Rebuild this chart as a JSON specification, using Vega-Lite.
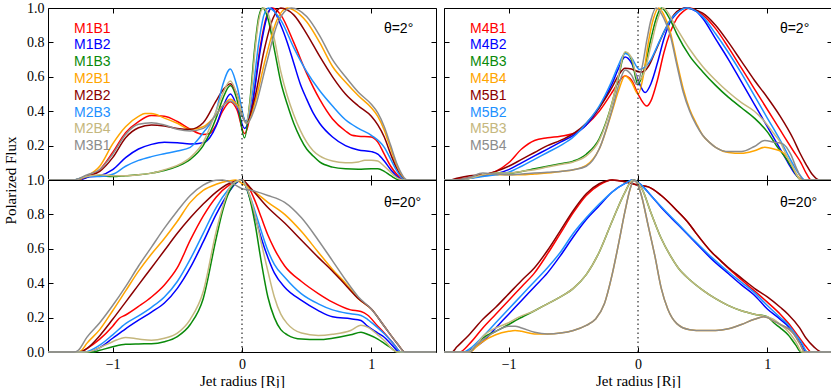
{
"$schema": "https://vega.github.io/schema/vega-lite/v6.json",
"padding": {"left": 2, "top": 0, "right": 0, "bottom": 0},
"bounds": "flush",
"columns": 2,
"spacing": {"row": 0, "column": 8},
"datasets": {
"tl": [
{"s":"M1B1","x":-1.5,"y":0},{"s":"M1B1","x":-1.3,"y":0},{"s":"M1B1","x":-1.2,"y":0.015},{"s":"M1B1","x":-1.1,"y":0.06},{"s":"M1B1","x":-1.0,"y":0.16},{"s":"M1B1","x":-0.9,"y":0.275},{"s":"M1B1","x":-0.8,"y":0.34},{"s":"M1B1","x":-0.7,"y":0.375},{"s":"M1B1","x":-0.6,"y":0.37},{"s":"M1B1","x":-0.5,"y":0.34},{"s":"M1B1","x":-0.4,"y":0.295},{"s":"M1B1","x":-0.3,"y":0.265},{"s":"M1B1","x":-0.25,"y":0.27},{"s":"M1B1","x":-0.2,"y":0.32},{"s":"M1B1","x":-0.15,"y":0.4},{"s":"M1B1","x":-0.09,"y":0.455},{"s":"M1B1","x":-0.04,"y":0.41},{"s":"M1B1","x":0.02,"y":0.27},{"s":"M1B1","x":0.08,"y":0.45},{"s":"M1B1","x":0.14,"y":0.77},{"s":"M1B1","x":0.19,"y":0.95},{"s":"M1B1","x":0.235,"y":1},{"s":"M1B1","x":0.3,"y":0.96},{"s":"M1B1","x":0.4,"y":0.8},{"s":"M1B1","x":0.5,"y":0.62},{"s":"M1B1","x":0.6,"y":0.47},{"s":"M1B1","x":0.7,"y":0.355},{"s":"M1B1","x":0.8,"y":0.285},{"s":"M1B1","x":0.85,"y":0.26},{"s":"M1B1","x":0.9,"y":0.255},{"s":"M1B1","x":1.0,"y":0.25},{"s":"M1B1","x":1.05,"y":0.22},{"s":"M1B1","x":1.1,"y":0.15},{"s":"M1B1","x":1.15,"y":0.08},{"s":"M1B1","x":1.2,"y":0.03},{"s":"M1B1","x":1.25,"y":0},{"s":"M1B1","x":1.5,"y":0},
{"s":"M1B2","x":-1.5,"y":0},{"s":"M1B2","x":-1.25,"y":0},{"s":"M1B2","x":-1.2,"y":0.015},{"s":"M1B2","x":-1.1,"y":0.025},{"s":"M1B2","x":-1.0,"y":0.06},{"s":"M1B2","x":-0.9,"y":0.13},{"s":"M1B2","x":-0.8,"y":0.18},{"s":"M1B2","x":-0.7,"y":0.207},{"s":"M1B2","x":-0.6,"y":0.22},{"s":"M1B2","x":-0.5,"y":0.217},{"s":"M1B2","x":-0.4,"y":0.21},{"s":"M1B2","x":-0.3,"y":0.217},{"s":"M1B2","x":-0.25,"y":0.246},{"s":"M1B2","x":-0.2,"y":0.314},{"s":"M1B2","x":-0.15,"y":0.42},{"s":"M1B2","x":-0.09,"y":0.5},{"s":"M1B2","x":-0.04,"y":0.43},{"s":"M1B2","x":0.02,"y":0.3},{"s":"M1B2","x":0.08,"y":0.44},{"s":"M1B2","x":0.14,"y":0.75},{"s":"M1B2","x":0.19,"y":0.94},{"s":"M1B2","x":0.225,"y":1},{"s":"M1B2","x":0.3,"y":0.9},{"s":"M1B2","x":0.35,"y":0.8},{"s":"M1B2","x":0.4,"y":0.68},{"s":"M1B2","x":0.45,"y":0.56},{"s":"M1B2","x":0.5,"y":0.47},{"s":"M1B2","x":0.55,"y":0.39},{"s":"M1B2","x":0.6,"y":0.33},{"s":"M1B2","x":0.7,"y":0.25},{"s":"M1B2","x":0.8,"y":0.2},{"s":"M1B2","x":0.9,"y":0.175},{"s":"M1B2","x":1.0,"y":0.165},{"s":"M1B2","x":1.05,"y":0.15},{"s":"M1B2","x":1.1,"y":0.11},{"s":"M1B2","x":1.15,"y":0.06},{"s":"M1B2","x":1.2,"y":0.02},{"s":"M1B2","x":1.24,"y":0},{"s":"M1B2","x":1.5,"y":0},
{"s":"M1B3","x":-1.5,"y":0},{"s":"M1B3","x":-1.3,"y":0},{"s":"M1B3","x":-1.2,"y":0.02},{"s":"M1B3","x":-1.1,"y":0.025},{"s":"M1B3","x":-1.0,"y":0.02},{"s":"M1B3","x":-0.9,"y":0.025},{"s":"M1B3","x":-0.8,"y":0.03},{"s":"M1B3","x":-0.7,"y":0.04},{"s":"M1B3","x":-0.6,"y":0.055},{"s":"M1B3","x":-0.5,"y":0.08},{"s":"M1B3","x":-0.4,"y":0.12},{"s":"M1B3","x":-0.3,"y":0.2},{"s":"M1B3","x":-0.2,"y":0.36},{"s":"M1B3","x":-0.15,"y":0.47},{"s":"M1B3","x":-0.09,"y":0.55},{"s":"M1B3","x":-0.04,"y":0.47},{"s":"M1B3","x":0.02,"y":0.245},{"s":"M1B3","x":0.06,"y":0.45},{"s":"M1B3","x":0.1,"y":0.78},{"s":"M1B3","x":0.13,"y":0.95},{"s":"M1B3","x":0.16,"y":1},{"s":"M1B3","x":0.2,"y":0.94},{"s":"M1B3","x":0.25,"y":0.76},{"s":"M1B3","x":0.3,"y":0.57},{"s":"M1B3","x":0.35,"y":0.44},{"s":"M1B3","x":0.4,"y":0.33},{"s":"M1B3","x":0.45,"y":0.245},{"s":"M1B3","x":0.5,"y":0.18},{"s":"M1B3","x":0.55,"y":0.14},{"s":"M1B3","x":0.6,"y":0.105},{"s":"M1B3","x":0.7,"y":0.075},{"s":"M1B3","x":0.8,"y":0.065},{"s":"M1B3","x":0.9,"y":0.063},{"s":"M1B3","x":1.0,"y":0.066},{"s":"M1B3","x":1.05,"y":0.065},{"s":"M1B3","x":1.1,"y":0.05},{"s":"M1B3","x":1.15,"y":0.025},{"s":"M1B3","x":1.22,"y":0},{"s":"M1B3","x":1.5,"y":0},
{"s":"M2B1","x":-1.5,"y":0},{"s":"M2B1","x":-1.28,"y":0},{"s":"M2B1","x":-1.2,"y":0.023},{"s":"M2B1","x":-1.1,"y":0.08},{"s":"M2B1","x":-1.0,"y":0.21},{"s":"M2B1","x":-0.9,"y":0.31},{"s":"M2B1","x":-0.8,"y":0.37},{"s":"M2B1","x":-0.75,"y":0.386},{"s":"M2B1","x":-0.7,"y":0.386},{"s":"M2B1","x":-0.6,"y":0.36},{"s":"M2B1","x":-0.5,"y":0.33},{"s":"M2B1","x":-0.4,"y":0.295},{"s":"M2B1","x":-0.3,"y":0.31},{"s":"M2B1","x":-0.2,"y":0.38},{"s":"M2B1","x":-0.15,"y":0.43},{"s":"M2B1","x":-0.09,"y":0.47},{"s":"M2B1","x":-0.04,"y":0.44},{"s":"M2B1","x":0.04,"y":0.33},{"s":"M2B1","x":0.1,"y":0.45},{"s":"M2B1","x":0.18,"y":0.7},{"s":"M2B1","x":0.27,"y":0.93},{"s":"M2B1","x":0.35,"y":1},{"s":"M2B1","x":0.45,"y":0.96},{"s":"M2B1","x":0.5,"y":0.92},{"s":"M2B1","x":0.6,"y":0.8},{"s":"M2B1","x":0.7,"y":0.66},{"s":"M2B1","x":0.8,"y":0.57},{"s":"M2B1","x":0.9,"y":0.49},{"s":"M2B1","x":1.0,"y":0.42},{"s":"M2B1","x":1.05,"y":0.37},{"s":"M2B1","x":1.1,"y":0.29},{"s":"M2B1","x":1.15,"y":0.18},{"s":"M2B1","x":1.2,"y":0.08},{"s":"M2B1","x":1.27,"y":0},{"s":"M2B1","x":1.5,"y":0},
{"s":"M2B2","x":-1.5,"y":0},{"s":"M2B2","x":-1.3,"y":0},{"s":"M2B2","x":-1.2,"y":0.02},{"s":"M2B2","x":-1.1,"y":0.05},{"s":"M2B2","x":-1.0,"y":0.13},{"s":"M2B2","x":-0.9,"y":0.246},{"s":"M2B2","x":-0.8,"y":0.304},{"s":"M2B2","x":-0.7,"y":0.32},{"s":"M2B2","x":-0.6,"y":0.314},{"s":"M2B2","x":-0.5,"y":0.3},{"s":"M2B2","x":-0.4,"y":0.295},{"s":"M2B2","x":-0.3,"y":0.333},{"s":"M2B2","x":-0.2,"y":0.46},{"s":"M2B2","x":-0.15,"y":0.52},{"s":"M2B2","x":-0.09,"y":0.56},{"s":"M2B2","x":-0.04,"y":0.5},{"s":"M2B2","x":0.03,"y":0.34},{"s":"M2B2","x":0.1,"y":0.48},{"s":"M2B2","x":0.17,"y":0.75},{"s":"M2B2","x":0.24,"y":0.94},{"s":"M2B2","x":0.3,"y":1},{"s":"M2B2","x":0.4,"y":0.96},{"s":"M2B2","x":0.5,"y":0.85},{"s":"M2B2","x":0.6,"y":0.72},{"s":"M2B2","x":0.7,"y":0.6},{"s":"M2B2","x":0.8,"y":0.5},{"s":"M2B2","x":0.9,"y":0.43},{"s":"M2B2","x":1.0,"y":0.37},{"s":"M2B2","x":1.05,"y":0.32},{"s":"M2B2","x":1.1,"y":0.25},{"s":"M2B2","x":1.15,"y":0.15},{"s":"M2B2","x":1.2,"y":0.06},{"s":"M2B2","x":1.26,"y":0},{"s":"M2B2","x":1.5,"y":0},
{"s":"M2B3","x":-1.5,"y":0},{"s":"M2B3","x":-1.3,"y":0},{"s":"M2B3","x":-1.2,"y":0.02},{"s":"M2B3","x":-1.1,"y":0.02},{"s":"M2B3","x":-1.0,"y":0.033},{"s":"M2B3","x":-0.9,"y":0.08},{"s":"M2B3","x":-0.8,"y":0.114},{"s":"M2B3","x":-0.7,"y":0.136},{"s":"M2B3","x":-0.6,"y":0.153},{"s":"M2B3","x":-0.5,"y":0.169},{"s":"M2B3","x":-0.4,"y":0.19},{"s":"M2B3","x":-0.35,"y":0.227},{"s":"M2B3","x":-0.3,"y":0.275},{"s":"M2B3","x":-0.2,"y":0.4},{"s":"M2B3","x":-0.15,"y":0.55},{"s":"M2B3","x":-0.09,"y":0.645},{"s":"M2B3","x":-0.04,"y":0.55},{"s":"M2B3","x":0.03,"y":0.34},{"s":"M2B3","x":0.08,"y":0.5},{"s":"M2B3","x":0.13,"y":0.8},{"s":"M2B3","x":0.17,"y":0.96},{"s":"M2B3","x":0.205,"y":1},{"s":"M2B3","x":0.3,"y":0.93},{"s":"M2B3","x":0.4,"y":0.77},{"s":"M2B3","x":0.5,"y":0.63},{"s":"M2B3","x":0.6,"y":0.52},{"s":"M2B3","x":0.7,"y":0.43},{"s":"M2B3","x":0.8,"y":0.35},{"s":"M2B3","x":0.9,"y":0.3},{"s":"M2B3","x":1.0,"y":0.26},{"s":"M2B3","x":1.1,"y":0.19},{"s":"M2B3","x":1.15,"y":0.12},{"s":"M2B3","x":1.2,"y":0.05},{"s":"M2B3","x":1.26,"y":0},{"s":"M2B3","x":1.5,"y":0},
{"s":"M2B4","x":-1.5,"y":0},{"s":"M2B4","x":-1.3,"y":0},{"s":"M2B4","x":-1.2,"y":0.02},{"s":"M2B4","x":-1.1,"y":0.03},{"s":"M2B4","x":-1.0,"y":0.025},{"s":"M2B4","x":-0.9,"y":0.025},{"s":"M2B4","x":-0.8,"y":0.03},{"s":"M2B4","x":-0.7,"y":0.04},{"s":"M2B4","x":-0.6,"y":0.06},{"s":"M2B4","x":-0.5,"y":0.085},{"s":"M2B4","x":-0.4,"y":0.13},{"s":"M2B4","x":-0.3,"y":0.22},{"s":"M2B4","x":-0.2,"y":0.4},{"s":"M2B4","x":-0.15,"y":0.5},{"s":"M2B4","x":-0.09,"y":0.575},{"s":"M2B4","x":-0.04,"y":0.5},{"s":"M2B4","x":0.03,"y":0.33},{"s":"M2B4","x":0.07,"y":0.5},{"s":"M2B4","x":0.1,"y":0.75},{"s":"M2B4","x":0.13,"y":0.93},{"s":"M2B4","x":0.165,"y":1},{"s":"M2B4","x":0.2,"y":0.97},{"s":"M2B4","x":0.25,"y":0.82},{"s":"M2B4","x":0.3,"y":0.63},{"s":"M2B4","x":0.35,"y":0.49},{"s":"M2B4","x":0.4,"y":0.38},{"s":"M2B4","x":0.45,"y":0.29},{"s":"M2B4","x":0.5,"y":0.22},{"s":"M2B4","x":0.55,"y":0.17},{"s":"M2B4","x":0.6,"y":0.14},{"s":"M2B4","x":0.7,"y":0.11},{"s":"M2B4","x":0.8,"y":0.1},{"s":"M2B4","x":0.9,"y":0.105},{"s":"M2B4","x":0.95,"y":0.115},{"s":"M2B4","x":1.0,"y":0.115},{"s":"M2B4","x":1.05,"y":0.11},{"s":"M2B4","x":1.1,"y":0.08},{"s":"M2B4","x":1.17,"y":0.03},{"s":"M2B4","x":1.24,"y":0},{"s":"M2B4","x":1.5,"y":0},
{"s":"M3B1","x":-1.5,"y":0},{"s":"M3B1","x":-1.3,"y":0},{"s":"M3B1","x":-1.2,"y":0.03},{"s":"M3B1","x":-1.1,"y":0.06},{"s":"M3B1","x":-1.0,"y":0.15},{"s":"M3B1","x":-0.9,"y":0.265},{"s":"M3B1","x":-0.8,"y":0.324},{"s":"M3B1","x":-0.7,"y":0.333},{"s":"M3B1","x":-0.6,"y":0.32},{"s":"M3B1","x":-0.5,"y":0.295},{"s":"M3B1","x":-0.4,"y":0.285},{"s":"M3B1","x":-0.3,"y":0.3},{"s":"M3B1","x":-0.2,"y":0.38},{"s":"M3B1","x":-0.15,"y":0.43},{"s":"M3B1","x":-0.09,"y":0.46},{"s":"M3B1","x":-0.04,"y":0.43},{"s":"M3B1","x":0.04,"y":0.33},{"s":"M3B1","x":0.1,"y":0.42},{"s":"M3B1","x":0.19,"y":0.68},{"s":"M3B1","x":0.28,"y":0.92},{"s":"M3B1","x":0.38,"y":1},{"s":"M3B1","x":0.5,"y":0.95},{"s":"M3B1","x":0.6,"y":0.84},{"s":"M3B1","x":0.7,"y":0.7},{"s":"M3B1","x":0.8,"y":0.6},{"s":"M3B1","x":0.9,"y":0.51},{"s":"M3B1","x":1.0,"y":0.44},{"s":"M3B1","x":1.05,"y":0.39},{"s":"M3B1","x":1.1,"y":0.31},{"s":"M3B1","x":1.15,"y":0.2},{"s":"M3B1","x":1.2,"y":0.09},{"s":"M3B1","x":1.28,"y":0},{"s":"M3B1","x":1.5,"y":0}
],
"tr": [
{"s":"M4B1","x":-1.5,"y":0},{"s":"M4B1","x":-1.4,"y":0.005},{"s":"M4B1","x":-1.3,"y":0.015},{"s":"M4B1","x":-1.2,"y":0.03},{"s":"M4B1","x":-1.1,"y":0.05},{"s":"M4B1","x":-1.0,"y":0.1},{"s":"M4B1","x":-0.9,"y":0.18},{"s":"M4B1","x":-0.8,"y":0.23},{"s":"M4B1","x":-0.7,"y":0.245},{"s":"M4B1","x":-0.6,"y":0.255},{"s":"M4B1","x":-0.5,"y":0.27},{"s":"M4B1","x":-0.4,"y":0.32},{"s":"M4B1","x":-0.3,"y":0.4},{"s":"M4B1","x":-0.2,"y":0.51},{"s":"M4B1","x":-0.15,"y":0.57},{"s":"M4B1","x":-0.1,"y":0.605},{"s":"M4B1","x":-0.05,"y":0.58},{"s":"M4B1","x":0.0,"y":0.5},{"s":"M4B1","x":0.068,"y":0.43},{"s":"M4B1","x":0.1,"y":0.46},{"s":"M4B1","x":0.15,"y":0.58},{"s":"M4B1","x":0.2,"y":0.74},{"s":"M4B1","x":0.25,"y":0.86},{"s":"M4B1","x":0.3,"y":0.94},{"s":"M4B1","x":0.35,"y":0.98},{"s":"M4B1","x":0.4,"y":1},{"s":"M4B1","x":0.5,"y":0.96},{"s":"M4B1","x":0.6,"y":0.88},{"s":"M4B1","x":0.7,"y":0.77},{"s":"M4B1","x":0.8,"y":0.65},{"s":"M4B1","x":0.9,"y":0.53},{"s":"M4B1","x":1.0,"y":0.41},{"s":"M4B1","x":1.1,"y":0.29},{"s":"M4B1","x":1.2,"y":0.17},{"s":"M4B1","x":1.26,"y":0.1},{"s":"M4B1","x":1.3,"y":0.04},{"s":"M4B1","x":1.34,"y":0},{"s":"M4B1","x":1.5,"y":0},
{"s":"M4B2","x":-1.5,"y":0},{"s":"M4B2","x":-1.4,"y":0},{"s":"M4B2","x":-1.3,"y":0.01},{"s":"M4B2","x":-1.2,"y":0.025},{"s":"M4B2","x":-1.1,"y":0.035},{"s":"M4B2","x":-1.0,"y":0.06},{"s":"M4B2","x":-0.9,"y":0.1},{"s":"M4B2","x":-0.8,"y":0.14},{"s":"M4B2","x":-0.7,"y":0.18},{"s":"M4B2","x":-0.6,"y":0.22},{"s":"M4B2","x":-0.5,"y":0.26},{"s":"M4B2","x":-0.4,"y":0.32},{"s":"M4B2","x":-0.3,"y":0.42},{"s":"M4B2","x":-0.2,"y":0.56},{"s":"M4B2","x":-0.15,"y":0.65},{"s":"M4B2","x":-0.1,"y":0.715},{"s":"M4B2","x":-0.05,"y":0.68},{"s":"M4B2","x":0.0,"y":0.58},{"s":"M4B2","x":0.055,"y":0.508},{"s":"M4B2","x":0.1,"y":0.56},{"s":"M4B2","x":0.15,"y":0.68},{"s":"M4B2","x":0.2,"y":0.82},{"s":"M4B2","x":0.25,"y":0.92},{"s":"M4B2","x":0.3,"y":0.97},{"s":"M4B2","x":0.37,"y":1},{"s":"M4B2","x":0.45,"y":0.98},{"s":"M4B2","x":0.5,"y":0.94},{"s":"M4B2","x":0.6,"y":0.82},{"s":"M4B2","x":0.7,"y":0.7},{"s":"M4B2","x":0.8,"y":0.57},{"s":"M4B2","x":0.9,"y":0.44},{"s":"M4B2","x":1.0,"y":0.31},{"s":"M4B2","x":1.1,"y":0.18},{"s":"M4B2","x":1.16,"y":0.1},{"s":"M4B2","x":1.22,"y":0.03},{"s":"M4B2","x":1.27,"y":0},{"s":"M4B2","x":1.5,"y":0},
{"s":"M4B3","x":-1.5,"y":0},{"s":"M4B3","x":-1.4,"y":0},{"s":"M4B3","x":-1.3,"y":0.01},{"s":"M4B3","x":-1.2,"y":0.03},{"s":"M4B3","x":-1.1,"y":0.04},{"s":"M4B3","x":-1.0,"y":0.04},{"s":"M4B3","x":-0.9,"y":0.05},{"s":"M4B3","x":-0.8,"y":0.065},{"s":"M4B3","x":-0.7,"y":0.08},{"s":"M4B3","x":-0.6,"y":0.095},{"s":"M4B3","x":-0.5,"y":0.11},{"s":"M4B3","x":-0.4,"y":0.15},{"s":"M4B3","x":-0.3,"y":0.24},{"s":"M4B3","x":-0.2,"y":0.45},{"s":"M4B3","x":-0.15,"y":0.6},{"s":"M4B3","x":-0.1,"y":0.74},{"s":"M4B3","x":-0.05,"y":0.7},{"s":"M4B3","x":0.0,"y":0.556},{"s":"M4B3","x":0.05,"y":0.65},{"s":"M4B3","x":0.1,"y":0.82},{"s":"M4B3","x":0.15,"y":0.96},{"s":"M4B3","x":0.18,"y":1},{"s":"M4B3","x":0.25,"y":0.93},{"s":"M4B3","x":0.3,"y":0.85},{"s":"M4B3","x":0.4,"y":0.72},{"s":"M4B3","x":0.5,"y":0.63},{"s":"M4B3","x":0.6,"y":0.55},{"s":"M4B3","x":0.7,"y":0.48},{"s":"M4B3","x":0.8,"y":0.42},{"s":"M4B3","x":0.9,"y":0.36},{"s":"M4B3","x":1.0,"y":0.28},{"s":"M4B3","x":1.07,"y":0.2},{"s":"M4B3","x":1.15,"y":0.12},{"s":"M4B3","x":1.2,"y":0.06},{"s":"M4B3","x":1.26,"y":0},{"s":"M4B3","x":1.5,"y":0},
{"s":"M4B4","x":-1.5,"y":0},{"s":"M4B4","x":-1.4,"y":0},{"s":"M4B4","x":-1.3,"y":0.01},{"s":"M4B4","x":-1.2,"y":0.03},{"s":"M4B4","x":-1.1,"y":0.03},{"s":"M4B4","x":-1.0,"y":0.03},{"s":"M4B4","x":-0.9,"y":0.03},{"s":"M4B4","x":-0.8,"y":0.035},{"s":"M4B4","x":-0.7,"y":0.04},{"s":"M4B4","x":-0.6,"y":0.05},{"s":"M4B4","x":-0.5,"y":0.06},{"s":"M4B4","x":-0.4,"y":0.085},{"s":"M4B4","x":-0.3,"y":0.18},{"s":"M4B4","x":-0.2,"y":0.4},{"s":"M4B4","x":-0.15,"y":0.52},{"s":"M4B4","x":-0.1,"y":0.605},{"s":"M4B4","x":-0.05,"y":0.57},{"s":"M4B4","x":0.0,"y":0.5},{"s":"M4B4","x":0.04,"y":0.6},{"s":"M4B4","x":0.08,"y":0.8},{"s":"M4B4","x":0.12,"y":0.94},{"s":"M4B4","x":0.16,"y":1},{"s":"M4B4","x":0.2,"y":0.96},{"s":"M4B4","x":0.25,"y":0.86},{"s":"M4B4","x":0.3,"y":0.69},{"s":"M4B4","x":0.35,"y":0.53},{"s":"M4B4","x":0.4,"y":0.41},{"s":"M4B4","x":0.45,"y":0.33},{"s":"M4B4","x":0.5,"y":0.26},{"s":"M4B4","x":0.55,"y":0.22},{"s":"M4B4","x":0.6,"y":0.19},{"s":"M4B4","x":0.7,"y":0.16},{"s":"M4B4","x":0.8,"y":0.155},{"s":"M4B4","x":0.9,"y":0.17},{"s":"M4B4","x":0.98,"y":0.19},{"s":"M4B4","x":1.05,"y":0.18},{"s":"M4B4","x":1.12,"y":0.16},{"s":"M4B4","x":1.18,"y":0.1},{"s":"M4B4","x":1.22,"y":0.04},{"s":"M4B4","x":1.27,"y":0},{"s":"M4B4","x":1.5,"y":0},
{"s":"M5B1","x":-1.5,"y":0},{"s":"M5B1","x":-1.45,"y":0},{"s":"M5B1","x":-1.4,"y":0.01},{"s":"M5B1","x":-1.3,"y":0.025},{"s":"M5B1","x":-1.2,"y":0.03},{"s":"M5B1","x":-1.1,"y":0.05},{"s":"M5B1","x":-1.0,"y":0.08},{"s":"M5B1","x":-0.9,"y":0.12},{"s":"M5B1","x":-0.8,"y":0.16},{"s":"M5B1","x":-0.7,"y":0.2},{"s":"M5B1","x":-0.6,"y":0.23},{"s":"M5B1","x":-0.5,"y":0.27},{"s":"M5B1","x":-0.4,"y":0.33},{"s":"M5B1","x":-0.3,"y":0.42},{"s":"M5B1","x":-0.2,"y":0.54},{"s":"M5B1","x":-0.15,"y":0.61},{"s":"M5B1","x":-0.1,"y":0.65},{"s":"M5B1","x":-0.05,"y":0.645},{"s":"M5B1","x":0.0,"y":0.63},{"s":"M5B1","x":0.03,"y":0.628},{"s":"M5B1","x":0.08,"y":0.66},{"s":"M5B1","x":0.13,"y":0.74},{"s":"M5B1","x":0.2,"y":0.86},{"s":"M5B1","x":0.25,"y":0.93},{"s":"M5B1","x":0.3,"y":0.98},{"s":"M5B1","x":0.36,"y":1},{"s":"M5B1","x":0.5,"y":0.97},{"s":"M5B1","x":0.6,"y":0.9},{"s":"M5B1","x":0.7,"y":0.8},{"s":"M5B1","x":0.8,"y":0.69},{"s":"M5B1","x":0.9,"y":0.58},{"s":"M5B1","x":1.0,"y":0.48},{"s":"M5B1","x":1.1,"y":0.37},{"s":"M5B1","x":1.2,"y":0.24},{"s":"M5B1","x":1.25,"y":0.16},{"s":"M5B1","x":1.3,"y":0.09},{"s":"M5B1","x":1.35,"y":0.03},{"s":"M5B1","x":1.4,"y":0},{"s":"M5B1","x":1.5,"y":0},
{"s":"M5B2","x":-1.5,"y":0},{"s":"M5B2","x":-1.4,"y":0},{"s":"M5B2","x":-1.3,"y":0.01},{"s":"M5B2","x":-1.2,"y":0.02},{"s":"M5B2","x":-1.1,"y":0.03},{"s":"M5B2","x":-1.0,"y":0.045},{"s":"M5B2","x":-0.9,"y":0.08},{"s":"M5B2","x":-0.8,"y":0.12},{"s":"M5B2","x":-0.7,"y":0.16},{"s":"M5B2","x":-0.6,"y":0.2},{"s":"M5B2","x":-0.5,"y":0.25},{"s":"M5B2","x":-0.4,"y":0.33},{"s":"M5B2","x":-0.3,"y":0.43},{"s":"M5B2","x":-0.2,"y":0.58},{"s":"M5B2","x":-0.15,"y":0.67},{"s":"M5B2","x":-0.1,"y":0.735},{"s":"M5B2","x":-0.05,"y":0.71},{"s":"M5B2","x":0.01,"y":0.643},{"s":"M5B2","x":0.06,"y":0.66},{"s":"M5B2","x":0.1,"y":0.7},{"s":"M5B2","x":0.15,"y":0.78},{"s":"M5B2","x":0.2,"y":0.86},{"s":"M5B2","x":0.25,"y":0.93},{"s":"M5B2","x":0.3,"y":0.97},{"s":"M5B2","x":0.38,"y":1},{"s":"M5B2","x":0.5,"y":0.95},{"s":"M5B2","x":0.6,"y":0.85},{"s":"M5B2","x":0.7,"y":0.74},{"s":"M5B2","x":0.8,"y":0.62},{"s":"M5B2","x":0.9,"y":0.49},{"s":"M5B2","x":1.0,"y":0.36},{"s":"M5B2","x":1.1,"y":0.23},{"s":"M5B2","x":1.15,"y":0.16},{"s":"M5B2","x":1.2,"y":0.09},{"s":"M5B2","x":1.25,"y":0.03},{"s":"M5B2","x":1.29,"y":0},{"s":"M5B2","x":1.5,"y":0},
{"s":"M5B3","x":-1.5,"y":0},{"s":"M5B3","x":-1.4,"y":0},{"s":"M5B3","x":-1.3,"y":0.01},{"s":"M5B3","x":-1.2,"y":0.03},{"s":"M5B3","x":-1.1,"y":0.04},{"s":"M5B3","x":-1.0,"y":0.04},{"s":"M5B3","x":-0.9,"y":0.05},{"s":"M5B3","x":-0.8,"y":0.06},{"s":"M5B3","x":-0.7,"y":0.075},{"s":"M5B3","x":-0.6,"y":0.09},{"s":"M5B3","x":-0.5,"y":0.105},{"s":"M5B3","x":-0.4,"y":0.14},{"s":"M5B3","x":-0.3,"y":0.23},{"s":"M5B3","x":-0.2,"y":0.45},{"s":"M5B3","x":-0.15,"y":0.61},{"s":"M5B3","x":-0.1,"y":0.745},{"s":"M5B3","x":-0.05,"y":0.71},{"s":"M5B3","x":0.0,"y":0.58},{"s":"M5B3","x":0.05,"y":0.63},{"s":"M5B3","x":0.1,"y":0.78},{"s":"M5B3","x":0.15,"y":0.93},{"s":"M5B3","x":0.195,"y":1},{"s":"M5B3","x":0.3,"y":0.88},{"s":"M5B3","x":0.4,"y":0.76},{"s":"M5B3","x":0.5,"y":0.66},{"s":"M5B3","x":0.6,"y":0.58},{"s":"M5B3","x":0.7,"y":0.51},{"s":"M5B3","x":0.8,"y":0.45},{"s":"M5B3","x":0.9,"y":0.4},{"s":"M5B3","x":1.0,"y":0.32},{"s":"M5B3","x":1.05,"y":0.27},{"s":"M5B3","x":1.1,"y":0.22},{"s":"M5B3","x":1.15,"y":0.14},{"s":"M5B3","x":1.2,"y":0.07},{"s":"M5B3","x":1.26,"y":0},{"s":"M5B3","x":1.5,"y":0},
{"s":"M5B4","x":-1.5,"y":0},{"s":"M5B4","x":-1.4,"y":0},{"s":"M5B4","x":-1.3,"y":0.015},{"s":"M5B4","x":-1.2,"y":0.04},{"s":"M5B4","x":-1.1,"y":0.035},{"s":"M5B4","x":-1.0,"y":0.03},{"s":"M5B4","x":-0.9,"y":0.035},{"s":"M5B4","x":-0.8,"y":0.04},{"s":"M5B4","x":-0.7,"y":0.045},{"s":"M5B4","x":-0.6,"y":0.05},{"s":"M5B4","x":-0.5,"y":0.06},{"s":"M5B4","x":-0.4,"y":0.08},{"s":"M5B4","x":-0.3,"y":0.18},{"s":"M5B4","x":-0.2,"y":0.41},{"s":"M5B4","x":-0.15,"y":0.55},{"s":"M5B4","x":-0.1,"y":0.64},{"s":"M5B4","x":-0.05,"y":0.61},{"s":"M5B4","x":-0.01,"y":0.556},{"s":"M5B4","x":0.03,"y":0.65},{"s":"M5B4","x":0.07,"y":0.82},{"s":"M5B4","x":0.1,"y":0.93},{"s":"M5B4","x":0.14,"y":1},{"s":"M5B4","x":0.2,"y":0.94},{"s":"M5B4","x":0.25,"y":0.84},{"s":"M5B4","x":0.3,"y":0.67},{"s":"M5B4","x":0.35,"y":0.51},{"s":"M5B4","x":0.4,"y":0.4},{"s":"M5B4","x":0.45,"y":0.32},{"s":"M5B4","x":0.5,"y":0.26},{"s":"M5B4","x":0.55,"y":0.22},{"s":"M5B4","x":0.6,"y":0.19},{"s":"M5B4","x":0.7,"y":0.165},{"s":"M5B4","x":0.8,"y":0.165},{"s":"M5B4","x":0.9,"y":0.195},{"s":"M5B4","x":0.98,"y":0.23},{"s":"M5B4","x":1.05,"y":0.22},{"s":"M5B4","x":1.12,"y":0.21},{"s":"M5B4","x":1.18,"y":0.15},{"s":"M5B4","x":1.23,"y":0.06},{"s":"M5B4","x":1.28,"y":0},{"s":"M5B4","x":1.5,"y":0}
],
"bl": [
{"s":"M1B1","x":-1.5,"y":0},{"s":"M1B1","x":-1.25,"y":0},{"s":"M1B1","x":-1.2,"y":0.02},{"s":"M1B1","x":-1.1,"y":0.075},{"s":"M1B1","x":-1.0,"y":0.15},{"s":"M1B1","x":-0.95,"y":0.195},{"s":"M1B1","x":-0.9,"y":0.215},{"s":"M1B1","x":-0.8,"y":0.265},{"s":"M1B1","x":-0.7,"y":0.32},{"s":"M1B1","x":-0.6,"y":0.39},{"s":"M1B1","x":-0.5,"y":0.49},{"s":"M1B1","x":-0.4,"y":0.65},{"s":"M1B1","x":-0.3,"y":0.79},{"s":"M1B1","x":-0.2,"y":0.9},{"s":"M1B1","x":-0.1,"y":0.97},{"s":"M1B1","x":-0.05,"y":0.99},{"s":"M1B1","x":0,"y":1},{"s":"M1B1","x":0.05,"y":0.96},{"s":"M1B1","x":0.1,"y":0.88},{"s":"M1B1","x":0.15,"y":0.78},{"s":"M1B1","x":0.2,"y":0.68},{"s":"M1B1","x":0.25,"y":0.6},{"s":"M1B1","x":0.33,"y":0.5},{"s":"M1B1","x":0.46,"y":0.41},{"s":"M1B1","x":0.59,"y":0.34},{"s":"M1B1","x":0.7,"y":0.29},{"s":"M1B1","x":0.84,"y":0.245},{"s":"M1B1","x":0.92,"y":0.235},{"s":"M1B1","x":0.97,"y":0.215},{"s":"M1B1","x":1.05,"y":0.15},{"s":"M1B1","x":1.1,"y":0.11},{"s":"M1B1","x":1.17,"y":0.05},{"s":"M1B1","x":1.23,"y":0},{"s":"M1B1","x":1.5,"y":0},
{"s":"M1B2","x":-1.5,"y":0},{"s":"M1B2","x":-1.2,"y":0},{"s":"M1B2","x":-1.1,"y":0.025},{"s":"M1B2","x":-1.0,"y":0.08},{"s":"M1B2","x":-0.9,"y":0.135},{"s":"M1B2","x":-0.8,"y":0.185},{"s":"M1B2","x":-0.7,"y":0.232},{"s":"M1B2","x":-0.6,"y":0.285},{"s":"M1B2","x":-0.5,"y":0.37},{"s":"M1B2","x":-0.4,"y":0.49},{"s":"M1B2","x":-0.3,"y":0.64},{"s":"M1B2","x":-0.2,"y":0.8},{"s":"M1B2","x":-0.1,"y":0.93},{"s":"M1B2","x":-0.05,"y":0.98},{"s":"M1B2","x":0,"y":1},{"s":"M1B2","x":0.05,"y":0.92},{"s":"M1B2","x":0.1,"y":0.79},{"s":"M1B2","x":0.15,"y":0.66},{"s":"M1B2","x":0.2,"y":0.55},{"s":"M1B2","x":0.25,"y":0.46},{"s":"M1B2","x":0.33,"y":0.377},{"s":"M1B2","x":0.46,"y":0.3},{"s":"M1B2","x":0.59,"y":0.241},{"s":"M1B2","x":0.7,"y":0.205},{"s":"M1B2","x":0.84,"y":0.193},{"s":"M1B2","x":0.92,"y":0.183},{"s":"M1B2","x":0.97,"y":0.15},{"s":"M1B2","x":1.05,"y":0.11},{"s":"M1B2","x":1.1,"y":0.086},{"s":"M1B2","x":1.16,"y":0.04},{"s":"M1B2","x":1.22,"y":0},{"s":"M1B2","x":1.5,"y":0},
{"s":"M1B3","x":-1.5,"y":0},{"s":"M1B3","x":-1.15,"y":0},{"s":"M1B3","x":-1.1,"y":0.01},{"s":"M1B3","x":-1.0,"y":0.03},{"s":"M1B3","x":-0.9,"y":0.045},{"s":"M1B3","x":-0.8,"y":0.047},{"s":"M1B3","x":-0.7,"y":0.048},{"s":"M1B3","x":-0.6,"y":0.06},{"s":"M1B3","x":-0.5,"y":0.09},{"s":"M1B3","x":-0.4,"y":0.16},{"s":"M1B3","x":-0.3,"y":0.31},{"s":"M1B3","x":-0.2,"y":0.66},{"s":"M1B3","x":-0.15,"y":0.82},{"s":"M1B3","x":-0.1,"y":0.93},{"s":"M1B3","x":-0.05,"y":0.985},{"s":"M1B3","x":0,"y":1},{"s":"M1B3","x":0.05,"y":0.92},{"s":"M1B3","x":0.1,"y":0.75},{"s":"M1B3","x":0.15,"y":0.52},{"s":"M1B3","x":0.2,"y":0.32},{"s":"M1B3","x":0.25,"y":0.2},{"s":"M1B3","x":0.3,"y":0.13},{"s":"M1B3","x":0.35,"y":0.1},{"s":"M1B3","x":0.46,"y":0.075},{"s":"M1B3","x":0.59,"y":0.072},{"s":"M1B3","x":0.7,"y":0.08},{"s":"M1B3","x":0.84,"y":0.1},{"s":"M1B3","x":0.92,"y":0.115},{"s":"M1B3","x":0.98,"y":0.1},{"s":"M1B3","x":1.05,"y":0.075},{"s":"M1B3","x":1.1,"y":0.05},{"s":"M1B3","x":1.15,"y":0.025},{"s":"M1B3","x":1.2,"y":0},{"s":"M1B3","x":1.5,"y":0},
{"s":"M2B1","x":-1.5,"y":0},{"s":"M2B1","x":-1.28,"y":0},{"s":"M2B1","x":-1.24,"y":0.01},{"s":"M2B1","x":-1.2,"y":0.05},{"s":"M2B1","x":-1.1,"y":0.13},{"s":"M2B1","x":-1.0,"y":0.24},{"s":"M2B1","x":-0.9,"y":0.355},{"s":"M2B1","x":-0.8,"y":0.47},{"s":"M2B1","x":-0.7,"y":0.57},{"s":"M2B1","x":-0.6,"y":0.66},{"s":"M2B1","x":-0.5,"y":0.76},{"s":"M2B1","x":-0.4,"y":0.87},{"s":"M2B1","x":-0.3,"y":0.94},{"s":"M2B1","x":-0.2,"y":0.975},{"s":"M2B1","x":-0.1,"y":0.995},{"s":"M2B1","x":-0.05,"y":1},{"s":"M2B1","x":0,"y":0.98},{"s":"M2B1","x":0.1,"y":0.93},{"s":"M2B1","x":0.2,"y":0.87},{"s":"M2B1","x":0.33,"y":0.8},{"s":"M2B1","x":0.46,"y":0.7},{"s":"M2B1","x":0.59,"y":0.58},{"s":"M2B1","x":0.7,"y":0.48},{"s":"M2B1","x":0.8,"y":0.4},{"s":"M2B1","x":0.9,"y":0.31},{"s":"M2B1","x":1.0,"y":0.25},{"s":"M2B1","x":1.1,"y":0.15},{"s":"M2B1","x":1.2,"y":0.05},{"s":"M2B1","x":1.26,"y":0},{"s":"M2B1","x":1.5,"y":0},
{"s":"M2B2","x":-1.5,"y":0},{"s":"M2B2","x":-1.25,"y":0},{"s":"M2B2","x":-1.2,"y":0.02},{"s":"M2B2","x":-1.1,"y":0.095},{"s":"M2B2","x":-1.0,"y":0.19},{"s":"M2B2","x":-0.9,"y":0.29},{"s":"M2B2","x":-0.8,"y":0.39},{"s":"M2B2","x":-0.7,"y":0.49},{"s":"M2B2","x":-0.6,"y":0.59},{"s":"M2B2","x":-0.5,"y":0.69},{"s":"M2B2","x":-0.4,"y":0.78},{"s":"M2B2","x":-0.3,"y":0.86},{"s":"M2B2","x":-0.2,"y":0.93},{"s":"M2B2","x":-0.1,"y":0.98},{"s":"M2B2","x":-0.03,"y":0.995},{"s":"M2B2","x":0,"y":1},{"s":"M2B2","x":0.07,"y":0.95},{"s":"M2B2","x":0.2,"y":0.84},{"s":"M2B2","x":0.33,"y":0.75},{"s":"M2B2","x":0.46,"y":0.65},{"s":"M2B2","x":0.59,"y":0.55},{"s":"M2B2","x":0.7,"y":0.47},{"s":"M2B2","x":0.8,"y":0.39},{"s":"M2B2","x":0.9,"y":0.31},{"s":"M2B2","x":1.0,"y":0.25},{"s":"M2B2","x":1.1,"y":0.15},{"s":"M2B2","x":1.2,"y":0.05},{"s":"M2B2","x":1.26,"y":0},{"s":"M2B2","x":1.5,"y":0},
{"s":"M2B3","x":-1.5,"y":0},{"s":"M2B3","x":-1.22,"y":0},{"s":"M2B3","x":-1.1,"y":0.04},{"s":"M2B3","x":-1.0,"y":0.1},{"s":"M2B3","x":-0.9,"y":0.165},{"s":"M2B3","x":-0.8,"y":0.21},{"s":"M2B3","x":-0.7,"y":0.26},{"s":"M2B3","x":-0.6,"y":0.32},{"s":"M2B3","x":-0.5,"y":0.41},{"s":"M2B3","x":-0.4,"y":0.54},{"s":"M2B3","x":-0.3,"y":0.69},{"s":"M2B3","x":-0.2,"y":0.84},{"s":"M2B3","x":-0.1,"y":0.95},{"s":"M2B3","x":-0.05,"y":0.99},{"s":"M2B3","x":0,"y":1},{"s":"M2B3","x":0.05,"y":0.93},{"s":"M2B3","x":0.1,"y":0.82},{"s":"M2B3","x":0.15,"y":0.7},{"s":"M2B3","x":0.2,"y":0.59},{"s":"M2B3","x":0.25,"y":0.51},{"s":"M2B3","x":0.33,"y":0.435},{"s":"M2B3","x":0.46,"y":0.338},{"s":"M2B3","x":0.59,"y":0.28},{"s":"M2B3","x":0.7,"y":0.245},{"s":"M2B3","x":0.84,"y":0.222},{"s":"M2B3","x":0.92,"y":0.212},{"s":"M2B3","x":0.97,"y":0.19},{"s":"M2B3","x":1.05,"y":0.14},{"s":"M2B3","x":1.1,"y":0.106},{"s":"M2B3","x":1.17,"y":0.05},{"s":"M2B3","x":1.23,"y":0},{"s":"M2B3","x":1.5,"y":0},
{"s":"M2B4","x":-1.5,"y":0},{"s":"M2B4","x":-1.2,"y":0},{"s":"M2B4","x":-1.1,"y":0.025},{"s":"M2B4","x":-1.0,"y":0.06},{"s":"M2B4","x":-0.9,"y":0.085},{"s":"M2B4","x":-0.8,"y":0.075},{"s":"M2B4","x":-0.7,"y":0.068},{"s":"M2B4","x":-0.6,"y":0.08},{"s":"M2B4","x":-0.5,"y":0.11},{"s":"M2B4","x":-0.4,"y":0.19},{"s":"M2B4","x":-0.3,"y":0.35},{"s":"M2B4","x":-0.2,"y":0.7},{"s":"M2B4","x":-0.15,"y":0.84},{"s":"M2B4","x":-0.1,"y":0.95},{"s":"M2B4","x":-0.05,"y":0.99},{"s":"M2B4","x":0,"y":1},{"s":"M2B4","x":0.05,"y":0.93},{"s":"M2B4","x":0.1,"y":0.8},{"s":"M2B4","x":0.15,"y":0.63},{"s":"M2B4","x":0.2,"y":0.47},{"s":"M2B4","x":0.25,"y":0.32},{"s":"M2B4","x":0.3,"y":0.22},{"s":"M2B4","x":0.35,"y":0.165},{"s":"M2B4","x":0.46,"y":0.11},{"s":"M2B4","x":0.59,"y":0.096},{"s":"M2B4","x":0.7,"y":0.103},{"s":"M2B4","x":0.84,"y":0.125},{"s":"M2B4","x":0.92,"y":0.155},{"s":"M2B4","x":0.97,"y":0.145},{"s":"M2B4","x":1.05,"y":0.1},{"s":"M2B4","x":1.1,"y":0.067},{"s":"M2B4","x":1.2,"y":0},{"s":"M2B4","x":1.5,"y":0},
{"s":"M3B1","x":-1.5,"y":0},{"s":"M3B1","x":-1.3,"y":0},{"s":"M3B1","x":-1.266,"y":0.01},{"s":"M3B1","x":-1.2,"y":0.085},{"s":"M3B1","x":-1.1,"y":0.17},{"s":"M3B1","x":-1.0,"y":0.27},{"s":"M3B1","x":-0.9,"y":0.38},{"s":"M3B1","x":-0.8,"y":0.5},{"s":"M3B1","x":-0.7,"y":0.61},{"s":"M3B1","x":-0.6,"y":0.72},{"s":"M3B1","x":-0.5,"y":0.82},{"s":"M3B1","x":-0.4,"y":0.91},{"s":"M3B1","x":-0.3,"y":0.97},{"s":"M3B1","x":-0.2,"y":0.998},{"s":"M3B1","x":-0.15,"y":1},{"s":"M3B1","x":-0.1,"y":0.99},{"s":"M3B1","x":-0.05,"y":0.97},{"s":"M3B1","x":0,"y":0.95},{"s":"M3B1","x":0.07,"y":0.94},{"s":"M3B1","x":0.2,"y":0.91},{"s":"M3B1","x":0.33,"y":0.87},{"s":"M3B1","x":0.46,"y":0.78},{"s":"M3B1","x":0.59,"y":0.65},{"s":"M3B1","x":0.7,"y":0.53},{"s":"M3B1","x":0.8,"y":0.42},{"s":"M3B1","x":0.9,"y":0.32},{"s":"M3B1","x":1.0,"y":0.25},{"s":"M3B1","x":1.1,"y":0.15},{"s":"M3B1","x":1.2,"y":0.05},{"s":"M3B1","x":1.26,"y":0},{"s":"M3B1","x":1.5,"y":0}
],
"br": [
{"s":"M4B1","x":-1.5,"y":0},{"s":"M4B1","x":-1.38,"y":0},{"s":"M4B1","x":-1.3,"y":0.05},{"s":"M4B1","x":-1.2,"y":0.14},{"s":"M4B1","x":-1.1,"y":0.22},{"s":"M4B1","x":-1.0,"y":0.3},{"s":"M4B1","x":-0.9,"y":0.38},{"s":"M4B1","x":-0.8,"y":0.46},{"s":"M4B1","x":-0.7,"y":0.57},{"s":"M4B1","x":-0.6,"y":0.69},{"s":"M4B1","x":-0.5,"y":0.81},{"s":"M4B1","x":-0.4,"y":0.91},{"s":"M4B1","x":-0.3,"y":0.97},{"s":"M4B1","x":-0.2,"y":1},{"s":"M4B1","x":-0.1,"y":0.99},{"s":"M4B1","x":0,"y":0.97},{"s":"M4B1","x":0.08,"y":0.96},{"s":"M4B1","x":0.18,"y":0.91},{"s":"M4B1","x":0.31,"y":0.815},{"s":"M4B1","x":0.39,"y":0.75},{"s":"M4B1","x":0.44,"y":0.7},{"s":"M4B1","x":0.57,"y":0.58},{"s":"M4B1","x":0.64,"y":0.53},{"s":"M4B1","x":0.7,"y":0.485},{"s":"M4B1","x":0.8,"y":0.42},{"s":"M4B1","x":0.9,"y":0.355},{"s":"M4B1","x":1.0,"y":0.29},{"s":"M4B1","x":1.1,"y":0.22},{"s":"M4B1","x":1.16,"y":0.17},{"s":"M4B1","x":1.25,"y":0.08},{"s":"M4B1","x":1.3,"y":0.03},{"s":"M4B1","x":1.34,"y":0},{"s":"M4B1","x":1.5,"y":0},
{"s":"M4B2","x":-1.5,"y":0},{"s":"M4B2","x":-1.32,"y":0},{"s":"M4B2","x":-1.3,"y":0.01},{"s":"M4B2","x":-1.2,"y":0.06},{"s":"M4B2","x":-1.1,"y":0.14},{"s":"M4B2","x":-1.0,"y":0.22},{"s":"M4B2","x":-0.9,"y":0.3},{"s":"M4B2","x":-0.8,"y":0.38},{"s":"M4B2","x":-0.7,"y":0.46},{"s":"M4B2","x":-0.6,"y":0.56},{"s":"M4B2","x":-0.5,"y":0.67},{"s":"M4B2","x":-0.4,"y":0.77},{"s":"M4B2","x":-0.3,"y":0.85},{"s":"M4B2","x":-0.2,"y":0.93},{"s":"M4B2","x":-0.1,"y":0.98},{"s":"M4B2","x":-0.04,"y":1},{"s":"M4B2","x":0.026,"y":0.97},{"s":"M4B2","x":0.1,"y":0.91},{"s":"M4B2","x":0.18,"y":0.84},{"s":"M4B2","x":0.31,"y":0.74},{"s":"M4B2","x":0.44,"y":0.64},{"s":"M4B2","x":0.57,"y":0.54},{"s":"M4B2","x":0.7,"y":0.455},{"s":"M4B2","x":0.8,"y":0.39},{"s":"M4B2","x":0.9,"y":0.33},{"s":"M4B2","x":1.0,"y":0.25},{"s":"M4B2","x":1.1,"y":0.19},{"s":"M4B2","x":1.16,"y":0.15},{"s":"M4B2","x":1.22,"y":0.09},{"s":"M4B2","x":1.26,"y":0.05},{"s":"M4B2","x":1.3,"y":0},{"s":"M4B2","x":1.5,"y":0},
{"s":"M4B3","x":-1.5,"y":0},{"s":"M4B3","x":-1.32,"y":0},{"s":"M4B3","x":-1.25,"y":0.04},{"s":"M4B3","x":-1.2,"y":0.08},{"s":"M4B3","x":-1.1,"y":0.12},{"s":"M4B3","x":-1.0,"y":0.16},{"s":"M4B3","x":-0.93,"y":0.19},{"s":"M4B3","x":-0.8,"y":0.24},{"s":"M4B3","x":-0.7,"y":0.28},{"s":"M4B3","x":-0.6,"y":0.32},{"s":"M4B3","x":-0.5,"y":0.37},{"s":"M4B3","x":-0.4,"y":0.45},{"s":"M4B3","x":-0.3,"y":0.58},{"s":"M4B3","x":-0.2,"y":0.76},{"s":"M4B3","x":-0.1,"y":0.93},{"s":"M4B3","x":-0.04,"y":1},{"s":"M4B3","x":0.03,"y":0.95},{"s":"M4B3","x":0.1,"y":0.81},{"s":"M4B3","x":0.18,"y":0.66},{"s":"M4B3","x":0.25,"y":0.56},{"s":"M4B3","x":0.31,"y":0.49},{"s":"M4B3","x":0.4,"y":0.42},{"s":"M4B3","x":0.5,"y":0.36},{"s":"M4B3","x":0.6,"y":0.31},{"s":"M4B3","x":0.7,"y":0.27},{"s":"M4B3","x":0.8,"y":0.24},{"s":"M4B3","x":0.9,"y":0.22},{"s":"M4B3","x":1.0,"y":0.205},{"s":"M4B3","x":1.05,"y":0.17},{"s":"M4B3","x":1.1,"y":0.14},{"s":"M4B3","x":1.16,"y":0.1},{"s":"M4B3","x":1.22,"y":0.04},{"s":"M4B3","x":1.26,"y":0},{"s":"M4B3","x":1.5,"y":0},
{"s":"M4B4","x":-1.5,"y":0},{"s":"M4B4","x":-1.3,"y":0},{"s":"M4B4","x":-1.25,"y":0.03},{"s":"M4B4","x":-1.2,"y":0.06},{"s":"M4B4","x":-1.1,"y":0.1},{"s":"M4B4","x":-1.0,"y":0.12},{"s":"M4B4","x":-0.95,"y":0.125},{"s":"M4B4","x":-0.9,"y":0.12},{"s":"M4B4","x":-0.8,"y":0.105},{"s":"M4B4","x":-0.7,"y":0.105},{"s":"M4B4","x":-0.6,"y":0.11},{"s":"M4B4","x":-0.5,"y":0.125},{"s":"M4B4","x":-0.4,"y":0.155},{"s":"M4B4","x":-0.33,"y":0.19},{"s":"M4B4","x":-0.26,"y":0.28},{"s":"M4B4","x":-0.2,"y":0.45},{"s":"M4B4","x":-0.15,"y":0.63},{"s":"M4B4","x":-0.1,"y":0.82},{"s":"M4B4","x":-0.06,"y":0.95},{"s":"M4B4","x":-0.03,"y":1},{"s":"M4B4","x":0,"y":0.97},{"s":"M4B4","x":0.03,"y":0.9},{"s":"M4B4","x":0.08,"y":0.73},{"s":"M4B4","x":0.13,"y":0.56},{"s":"M4B4","x":0.18,"y":0.37},{"s":"M4B4","x":0.23,"y":0.25},{"s":"M4B4","x":0.3,"y":0.165},{"s":"M4B4","x":0.4,"y":0.13},{"s":"M4B4","x":0.5,"y":0.125},{"s":"M4B4","x":0.6,"y":0.125},{"s":"M4B4","x":0.7,"y":0.135},{"s":"M4B4","x":0.8,"y":0.16},{"s":"M4B4","x":0.9,"y":0.19},{"s":"M4B4","x":0.97,"y":0.205},{"s":"M4B4","x":1.0,"y":0.2},{"s":"M4B4","x":1.05,"y":0.18},{"s":"M4B4","x":1.1,"y":0.16},{"s":"M4B4","x":1.2,"y":0.11},{"s":"M4B4","x":1.25,"y":0.05},{"s":"M4B4","x":1.29,"y":0},{"s":"M4B4","x":1.5,"y":0},
{"s":"M5B1","x":-1.5,"y":0},{"s":"M5B1","x":-1.44,"y":0},{"s":"M5B1","x":-1.4,"y":0.03},{"s":"M5B1","x":-1.3,"y":0.105},{"s":"M5B1","x":-1.2,"y":0.19},{"s":"M5B1","x":-1.1,"y":0.26},{"s":"M5B1","x":-1.0,"y":0.338},{"s":"M5B1","x":-0.9,"y":0.416},{"s":"M5B1","x":-0.8,"y":0.49},{"s":"M5B1","x":-0.7,"y":0.59},{"s":"M5B1","x":-0.6,"y":0.706},{"s":"M5B1","x":-0.5,"y":0.823},{"s":"M5B1","x":-0.4,"y":0.92},{"s":"M5B1","x":-0.3,"y":0.978},{"s":"M5B1","x":-0.2,"y":1},{"s":"M5B1","x":-0.1,"y":0.99},{"s":"M5B1","x":0,"y":0.97},{"s":"M5B1","x":0.08,"y":0.96},{"s":"M5B1","x":0.18,"y":0.91},{"s":"M5B1","x":0.31,"y":0.815},{"s":"M5B1","x":0.39,"y":0.75},{"s":"M5B1","x":0.44,"y":0.7},{"s":"M5B1","x":0.57,"y":0.58},{"s":"M5B1","x":0.64,"y":0.53},{"s":"M5B1","x":0.7,"y":0.49},{"s":"M5B1","x":0.8,"y":0.43},{"s":"M5B1","x":0.9,"y":0.37},{"s":"M5B1","x":1.0,"y":0.32},{"s":"M5B1","x":1.1,"y":0.26},{"s":"M5B1","x":1.16,"y":0.22},{"s":"M5B1","x":1.25,"y":0.14},{"s":"M5B1","x":1.3,"y":0.08},{"s":"M5B1","x":1.36,"y":0.03},{"s":"M5B1","x":1.42,"y":0},{"s":"M5B1","x":1.5,"y":0},
{"s":"M5B2","x":-1.5,"y":0},{"s":"M5B2","x":-1.35,"y":0},{"s":"M5B2","x":-1.3,"y":0.02},{"s":"M5B2","x":-1.2,"y":0.09},{"s":"M5B2","x":-1.1,"y":0.17},{"s":"M5B2","x":-1.0,"y":0.25},{"s":"M5B2","x":-0.9,"y":0.33},{"s":"M5B2","x":-0.8,"y":0.41},{"s":"M5B2","x":-0.7,"y":0.49},{"s":"M5B2","x":-0.6,"y":0.58},{"s":"M5B2","x":-0.5,"y":0.69},{"s":"M5B2","x":-0.4,"y":0.78},{"s":"M5B2","x":-0.3,"y":0.86},{"s":"M5B2","x":-0.2,"y":0.93},{"s":"M5B2","x":-0.1,"y":0.98},{"s":"M5B2","x":-0.04,"y":1},{"s":"M5B2","x":0.026,"y":0.97},{"s":"M5B2","x":0.1,"y":0.91},{"s":"M5B2","x":0.18,"y":0.845},{"s":"M5B2","x":0.31,"y":0.745},{"s":"M5B2","x":0.44,"y":0.645},{"s":"M5B2","x":0.57,"y":0.55},{"s":"M5B2","x":0.7,"y":0.465},{"s":"M5B2","x":0.8,"y":0.405},{"s":"M5B2","x":0.9,"y":0.345},{"s":"M5B2","x":1.0,"y":0.27},{"s":"M5B2","x":1.1,"y":0.2},{"s":"M5B2","x":1.16,"y":0.16},{"s":"M5B2","x":1.22,"y":0.1},{"s":"M5B2","x":1.26,"y":0.06},{"s":"M5B2","x":1.31,"y":0},{"s":"M5B2","x":1.5,"y":0},
{"s":"M5B3","x":-1.5,"y":0},{"s":"M5B3","x":-1.32,"y":0},{"s":"M5B3","x":-1.25,"y":0.04},{"s":"M5B3","x":-1.2,"y":0.09},{"s":"M5B3","x":-1.1,"y":0.14},{"s":"M5B3","x":-1.0,"y":0.17},{"s":"M5B3","x":-0.93,"y":0.2},{"s":"M5B3","x":-0.8,"y":0.24},{"s":"M5B3","x":-0.7,"y":0.28},{"s":"M5B3","x":-0.6,"y":0.32},{"s":"M5B3","x":-0.5,"y":0.37},{"s":"M5B3","x":-0.4,"y":0.45},{"s":"M5B3","x":-0.3,"y":0.58},{"s":"M5B3","x":-0.2,"y":0.76},{"s":"M5B3","x":-0.1,"y":0.93},{"s":"M5B3","x":-0.04,"y":1},{"s":"M5B3","x":0.03,"y":0.95},{"s":"M5B3","x":0.1,"y":0.81},{"s":"M5B3","x":0.18,"y":0.66},{"s":"M5B3","x":0.25,"y":0.56},{"s":"M5B3","x":0.31,"y":0.49},{"s":"M5B3","x":0.4,"y":0.42},{"s":"M5B3","x":0.5,"y":0.36},{"s":"M5B3","x":0.6,"y":0.31},{"s":"M5B3","x":0.7,"y":0.27},{"s":"M5B3","x":0.8,"y":0.24},{"s":"M5B3","x":0.9,"y":0.22},{"s":"M5B3","x":1.0,"y":0.205},{"s":"M5B3","x":1.05,"y":0.19},{"s":"M5B3","x":1.1,"y":0.16},{"s":"M5B3","x":1.16,"y":0.12},{"s":"M5B3","x":1.22,"y":0.06},{"s":"M5B3","x":1.27,"y":0},{"s":"M5B3","x":1.5,"y":0},
{"s":"M5B4","x":-1.5,"y":0},{"s":"M5B4","x":-1.3,"y":0},{"s":"M5B4","x":-1.25,"y":0.04},{"s":"M5B4","x":-1.2,"y":0.07},{"s":"M5B4","x":-1.1,"y":0.12},{"s":"M5B4","x":-1.0,"y":0.15},{"s":"M5B4","x":-0.95,"y":0.15},{"s":"M5B4","x":-0.9,"y":0.14},{"s":"M5B4","x":-0.8,"y":0.115},{"s":"M5B4","x":-0.7,"y":0.105},{"s":"M5B4","x":-0.6,"y":0.11},{"s":"M5B4","x":-0.5,"y":0.125},{"s":"M5B4","x":-0.4,"y":0.155},{"s":"M5B4","x":-0.33,"y":0.19},{"s":"M5B4","x":-0.26,"y":0.28},{"s":"M5B4","x":-0.2,"y":0.45},{"s":"M5B4","x":-0.15,"y":0.63},{"s":"M5B4","x":-0.1,"y":0.82},{"s":"M5B4","x":-0.06,"y":0.95},{"s":"M5B4","x":-0.03,"y":1},{"s":"M5B4","x":0,"y":0.97},{"s":"M5B4","x":0.03,"y":0.9},{"s":"M5B4","x":0.08,"y":0.73},{"s":"M5B4","x":0.13,"y":0.56},{"s":"M5B4","x":0.18,"y":0.37},{"s":"M5B4","x":0.23,"y":0.25},{"s":"M5B4","x":0.3,"y":0.165},{"s":"M5B4","x":0.4,"y":0.13},{"s":"M5B4","x":0.5,"y":0.125},{"s":"M5B4","x":0.6,"y":0.125},{"s":"M5B4","x":0.7,"y":0.135},{"s":"M5B4","x":0.8,"y":0.16},{"s":"M5B4","x":0.9,"y":0.19},{"s":"M5B4","x":0.97,"y":0.205},{"s":"M5B4","x":1.0,"y":0.2},{"s":"M5B4","x":1.05,"y":0.18},{"s":"M5B4","x":1.1,"y":0.16},{"s":"M5B4","x":1.2,"y":0.11},{"s":"M5B4","x":1.25,"y":0.05},{"s":"M5B4","x":1.29,"y":0},{"s":"M5B4","x":1.5,"y":0}
]
},
"concat": [
{
"width": 388, "height": 172,
"layer": [
{"data": {"name": "tl"},
 "mark": {"type": "line", "interpolate": "monotone", "strokeWidth": 1.5},
 "encoding": {
  "x": {"field": "x", "type": "quantitative", "scale": {"domain": [-1.5, 1.5], "nice": false, "zero": false}, "axis": {"orient": "bottom", "values": [-1, 0, 1], "labels": false, "title": null, "tickSize": -5, "tickColor": "black", "domain": false, "grid": false}},
  "y": {"field": "y", "type": "quantitative", "scale": {"domain": [0, 1], "nice": false}, "axis": {"orient": "left", "values": [0.2, 0.4, 0.6, 0.8, 1], "format": ".1f", "tickSize": -5, "tickColor": "black", "domain": false, "grid": false, "labelPadding": 9, "labelFont": "Liberation Serif", "labelFontSize": 14, "labelColor": "black", "labelFlush": false, "title": "Polarized Flux", "titleFont": "Liberation Serif", "titleFontSize": 15, "titleFontWeight": "normal", "titleColor": "black", "titleX": -38, "titleY": 172, "titleAngle": 270, "titleAlign": "center", "titleBaseline": "middle"}},
  "color": {"field": "s", "type": "nominal",
   "scale": {"domain": ["M1B1","M1B2","M1B3","M2B1","M2B2","M2B3","M2B4","M3B1","M4B1","M4B2","M4B3","M4B4","M5B1","M5B2","M5B3","M5B4"], "range": ["#ff0000","#0000ff","#0a8a0a","#ffa500","#8b0000","#1e90ff","#c5b77e","#8c8c8c","#ff0000","#0000ff","#0a8a0a","#ffa500","#8b0000","#1e90ff","#c5b77e","#8c8c8c"]},
   "legend": {"orient": "none", "direction": "vertical", "legendX": 12, "legendY": 13.5, "values": ["M1B1","M1B2","M1B3","M2B1","M2B2","M2B3","M2B4","M3B1"], "title": null, "padding": 0, "symbolSize": 0, "symbolOpacity": 0, "symbolStrokeWidth": 0, "labelOffset": 0, "labelFont": "Liberation Sans", "labelFontSize": 14, "rowPadding": 2.8, "encode": {"labels": {"update": {"fill": {"scale": "color", "field": "value"}}}}}}
 }},
{"data": {"values": [{}]},
 "mark": {"type": "rule", "color": "black", "strokeWidth": 1, "strokeDash": [1.5, 3]},
 "encoding": {
  "x": {"datum": 0, "type": "quantitative", "axis": {"orient": "top", "values": [-1, 0, 1], "labels": false, "title": null, "tickSize": -5, "tickColor": "black", "domain": false, "grid": false}},
  "y": {"datum": 0, "type": "quantitative", "axis": {"orient": "right", "values": [0, 0.2, 0.4, 0.6, 0.8, 1], "labels": false, "title": null, "tickSize": -5, "tickColor": "black", "domain": false, "grid": false}},
  "y2": {"datum": 1}
 }},
{"data": {"values": [{}]},
 "mark": {"type": "text", "text": "θ=2°", "align": "left", "baseline": "middle", "font": "Liberation Sans", "fontSize": 14, "color": "black"},
 "encoding": {"x": {"datum": 1.097, "type": "quantitative", "axis": null}, "y": {"datum": 0.878, "type": "quantitative", "axis": null}}}
]
},
{
"width": 388, "height": 172,
"layer": [
{"data": {"name": "tr"},
 "mark": {"type": "line", "interpolate": "monotone", "strokeWidth": 1.5},
 "encoding": {
  "x": {"field": "x", "type": "quantitative", "scale": {"domain": [-1.5, 1.5], "nice": false, "zero": false}, "axis": {"orient": "bottom", "values": [-1, 0, 1], "labels": false, "title": null, "tickSize": -5, "tickColor": "black", "domain": false, "grid": false}},
  "y": {"field": "y", "type": "quantitative", "scale": {"domain": [0, 1], "nice": false}, "axis": {"orient": "left", "values": [0, 0.2, 0.4, 0.6, 0.8, 1], "labels": false, "title": null, "tickSize": -5, "tickColor": "black", "domain": false, "grid": false}},
  "color": {"field": "s", "type": "nominal",
   "scale": {"domain": ["M1B1","M1B2","M1B3","M2B1","M2B2","M2B3","M2B4","M3B1","M4B1","M4B2","M4B3","M4B4","M5B1","M5B2","M5B3","M5B4"], "range": ["#ff0000","#0000ff","#0a8a0a","#ffa500","#8b0000","#1e90ff","#c5b77e","#8c8c8c","#ff0000","#0000ff","#0a8a0a","#ffa500","#8b0000","#1e90ff","#c5b77e","#8c8c8c"]},
   "legend": {"orient": "none", "direction": "vertical", "legendX": 12, "legendY": 13.5, "values": ["M4B1","M4B2","M4B3","M4B4","M5B1","M5B2","M5B3","M5B4"], "title": null, "padding": 0, "symbolSize": 0, "symbolOpacity": 0, "symbolStrokeWidth": 0, "labelOffset": 0, "labelFont": "Liberation Sans", "labelFontSize": 14, "rowPadding": 2.8, "encode": {"labels": {"update": {"fill": {"scale": "color", "field": "value"}}}}}}
 }},
{"data": {"values": [{}]},
 "mark": {"type": "rule", "color": "black", "strokeWidth": 1, "strokeDash": [1.5, 3]},
 "encoding": {
  "x": {"datum": 0, "type": "quantitative", "axis": {"orient": "top", "values": [-1, 0, 1], "labels": false, "title": null, "tickSize": -5, "tickColor": "black", "domain": false, "grid": false}},
  "y": {"datum": 0, "type": "quantitative", "axis": {"orient": "right", "values": [0, 0.2, 0.4, 0.6, 0.8, 1], "labels": false, "title": null, "tickSize": -5, "tickColor": "black", "domain": false, "grid": false}},
  "y2": {"datum": 1}
 }},
{"data": {"values": [{}]},
 "mark": {"type": "text", "text": "θ=2°", "align": "left", "baseline": "middle", "font": "Liberation Sans", "fontSize": 14, "color": "black"},
 "encoding": {"x": {"datum": 1.097, "type": "quantitative", "axis": null}, "y": {"datum": 0.878, "type": "quantitative", "axis": null}}}
]
},
{
"width": 388, "height": 172,
"layer": [
{"data": {"name": "bl"},
 "mark": {"type": "line", "interpolate": "monotone", "strokeWidth": 1.5},
 "encoding": {
  "x": {"field": "x", "type": "quantitative", "scale": {"domain": [-1.5, 1.5], "nice": false, "zero": false}, "axis": {"orient": "bottom", "values": [-1, 0, 1], "format": "d", "tickSize": -5, "tickColor": "black", "domain": false, "grid": false, "labelPadding": 10, "labelFont": "Liberation Serif", "labelFontSize": 14, "labelColor": "black", "labelFlush": false, "title": "Jet radius [Rj]", "titleFont": "Liberation Serif", "titleFontSize": 15, "titleFontWeight": "normal", "titleColor": "black", "titlePadding": 2}},
  "y": {"field": "y", "type": "quantitative", "scale": {"domain": [0, 1], "nice": false}, "axis": {"orient": "left", "values": [0, 0.2, 0.4, 0.6, 0.8, 1], "format": ".1f", "tickSize": -5, "tickColor": "black", "domain": false, "grid": false, "labelPadding": 9, "labelFont": "Liberation Serif", "labelFontSize": 14, "labelColor": "black", "labelFlush": false, "title": null}},
  "color": {"field": "s", "type": "nominal",
   "scale": {"domain": ["M1B1","M1B2","M1B3","M2B1","M2B2","M2B3","M2B4","M3B1","M4B1","M4B2","M4B3","M4B4","M5B1","M5B2","M5B3","M5B4"], "range": ["#ff0000","#0000ff","#0a8a0a","#ffa500","#8b0000","#1e90ff","#c5b77e","#8c8c8c","#ff0000","#0000ff","#0a8a0a","#ffa500","#8b0000","#1e90ff","#c5b77e","#8c8c8c"]},
   "legend": null}
 }},
{"data": {"values": [{}]},
 "mark": {"type": "rule", "color": "black", "strokeWidth": 1, "strokeDash": [1.5, 3]},
 "encoding": {
  "x": {"datum": 0, "type": "quantitative", "axis": {"orient": "top", "values": [-1, 0, 1], "labels": false, "title": null, "tickSize": -5, "tickColor": "black", "domain": false, "grid": false}},
  "y": {"datum": 0, "type": "quantitative", "axis": {"orient": "right", "values": [0, 0.2, 0.4, 0.6, 0.8, 1], "labels": false, "title": null, "tickSize": -5, "tickColor": "black", "domain": false, "grid": false}},
  "y2": {"datum": 1}
 }},
{"data": {"values": [{}]},
 "mark": {"type": "text", "text": "θ=20°", "align": "left", "baseline": "middle", "font": "Liberation Sans", "fontSize": 14, "color": "black"},
 "encoding": {"x": {"datum": 1.097, "type": "quantitative", "axis": null}, "y": {"datum": 0.868, "type": "quantitative", "axis": null}}}
]
},
{
"width": 388, "height": 172,
"layer": [
{"data": {"name": "br"},
 "mark": {"type": "line", "interpolate": "monotone", "strokeWidth": 1.5},
 "encoding": {
  "x": {"field": "x", "type": "quantitative", "scale": {"domain": [-1.5, 1.5], "nice": false, "zero": false}, "axis": {"orient": "bottom", "values": [-1, 0, 1], "format": "d", "tickSize": -5, "tickColor": "black", "domain": false, "grid": false, "labelPadding": 10, "labelFont": "Liberation Serif", "labelFontSize": 14, "labelColor": "black", "labelFlush": false, "title": "Jet radius [Rj]", "titleFont": "Liberation Serif", "titleFontSize": 15, "titleFontWeight": "normal", "titleColor": "black", "titlePadding": 2}},
  "y": {"field": "y", "type": "quantitative", "scale": {"domain": [0, 1], "nice": false}, "axis": {"orient": "left", "values": [0, 0.2, 0.4, 0.6, 0.8, 1], "labels": false, "title": null, "tickSize": -5, "tickColor": "black", "domain": false, "grid": false}},
  "color": {"field": "s", "type": "nominal",
   "scale": {"domain": ["M1B1","M1B2","M1B3","M2B1","M2B2","M2B3","M2B4","M3B1","M4B1","M4B2","M4B3","M4B4","M5B1","M5B2","M5B3","M5B4"], "range": ["#ff0000","#0000ff","#0a8a0a","#ffa500","#8b0000","#1e90ff","#c5b77e","#8c8c8c","#ff0000","#0000ff","#0a8a0a","#ffa500","#8b0000","#1e90ff","#c5b77e","#8c8c8c"]},
   "legend": null}
 }},
{"data": {"values": [{}]},
 "mark": {"type": "rule", "color": "black", "strokeWidth": 1, "strokeDash": [1.5, 3]},
 "encoding": {
  "x": {"datum": 0, "type": "quantitative", "axis": {"orient": "top", "values": [-1, 0, 1], "labels": false, "title": null, "tickSize": -5, "tickColor": "black", "domain": false, "grid": false}},
  "y": {"datum": 0, "type": "quantitative", "axis": {"orient": "right", "values": [0, 0.2, 0.4, 0.6, 0.8, 1], "labels": false, "title": null, "tickSize": -5, "tickColor": "black", "domain": false, "grid": false}},
  "y2": {"datum": 1}
 }},
{"data": {"values": [{}]},
 "mark": {"type": "text", "text": "θ=20°", "align": "left", "baseline": "middle", "font": "Liberation Sans", "fontSize": 14, "color": "black"},
 "encoding": {"x": {"datum": 1.097, "type": "quantitative", "axis": null}, "y": {"datum": 0.868, "type": "quantitative", "axis": null}}}
]
}
],
"resolve": {"scale": {"color": "shared"}, "legend": {"color": "independent"}},
"config": {
 "view": {"stroke": "black", "strokeWidth": 1},
 "axis": {"grid": false, "domain": false, "ticks": true, "tickColor": "black", "tickSize": -5, "tickWidth": 1, "labelPadding": 9, "labelFont": "Liberation Serif", "labelFontSize": 14, "labelColor": "black", "labelFlush": false, "labelOverlap": false, "titleFont": "Liberation Serif", "titleFontSize": 15, "titleFontWeight": "normal", "titleColor": "black", "titlePadding": 2},
 "axisBottom": {"labelPadding": 10}
}
}
